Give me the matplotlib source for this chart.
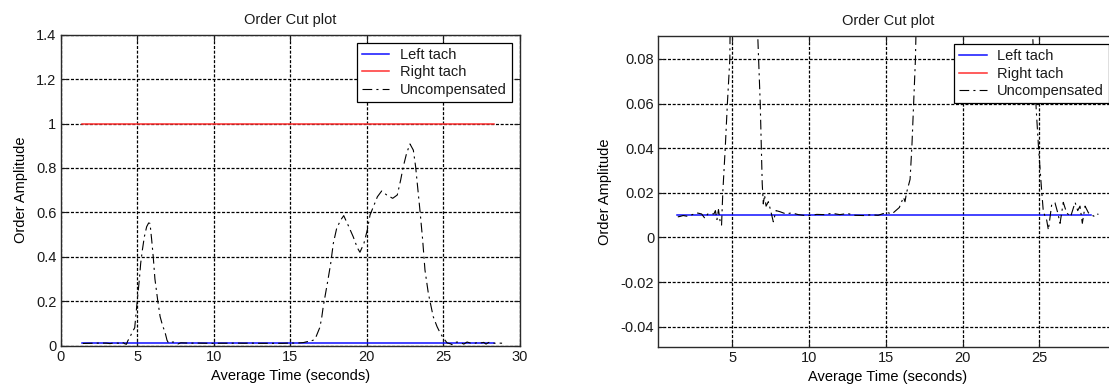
import numpy as np
import matplotlib
matplotlib.use("Agg")
import matplotlib.pyplot as plt
from matplotlib.ticker import FuncFormatter

plt.rcParams["font.family"] = ["Liberation Sans", "DejaVu Sans"]
plt.rcParams["font.size"] = 10.5
plt.rcParams["axes.unicode_minus"] = False
plt.rcParams["lines.scale_dashes"] = False
plt.rcParams["text.color"] = "#1a1a1a"

# tach reference levels over the averaged time span
tach_t = [1.4, 28.35]
left_tach = [0.01, 0.01]
right_tach = [1.0, 1.0]

# uncompensated order amplitude
unc_t = [1.45, 1.6, 1.8, 2.03, 2.4, 2.68, 3.0, 3.22, 3.4, 3.55, 3.8, 3.9, 4.0,
         4.1, 4.2, 4.3, 4.38, 4.46, 4.54, 4.68, 4.84, 4.92, 5.01, 5.14, 5.23,
         5.34, 5.47, 5.62, 5.75, 5.84, 5.95, 6.05, 6.16, 6.34, 6.5, 6.66, 6.82,
         6.89, 6.95, 7.02, 7.1, 7.2, 7.35, 7.5, 7.67, 7.85, 8.11, 8.5, 8.87,
         9.3, 9.74, 9.93, 10.5, 11.0, 11.5, 12.0, 12.5, 13.0, 13.54, 14.0,
         14.5, 15.06, 15.4, 15.88, 16.15, 16.25, 16.35, 16.58, 16.7, 16.81,
         16.93, 17.05, 17.16, 17.43, 17.65, 17.82, 18.04, 18.3, 18.5, 18.8,
         19.12, 19.39, 19.56, 19.82, 20.04, 20.22, 20.48, 20.7, 20.98, 21.31,
         21.7, 22.0, 22.22, 22.39, 22.61, 22.83, 23.05, 23.2, 23.31, 23.48,
         23.66, 23.81, 24.03, 24.35, 24.6, 24.8, 24.95, 25.14, 25.26, 25.48,
         25.59, 25.81, 26.02, 26.2, 26.35, 26.56, 26.78, 27.04, 27.33, 27.5,
         27.65, 27.8, 27.98, 28.2, 28.41, 28.55, 28.69, 28.85]
unc_amp = [0.0092, 0.0094, 0.0098, 0.0095, 0.0102, 0.011, 0.0105, 0.0085,
           0.0105, 0.0107, 0.0105, 0.012, 0.008, 0.0125, 0.0075, 0.0055,
           0.02, 0.03, 0.04, 0.06, 0.08, 0.14, 0.205, 0.295, 0.37, 0.43, 0.49,
           0.535, 0.552, 0.55, 0.475, 0.4, 0.3, 0.205, 0.13, 0.09, 0.06, 0.04,
           0.024, 0.015, 0.019, 0.014, 0.016, 0.012, 0.007, 0.012, 0.0115,
           0.0105, 0.011, 0.0102, 0.0098, 0.0097, 0.0103, 0.0102, 0.0108,
           0.0102, 0.0107, 0.0099, 0.0098, 0.0101, 0.0099, 0.0112, 0.0105,
           0.0134, 0.018, 0.016, 0.02, 0.026, 0.041, 0.06, 0.08, 0.12, 0.175,
           0.28, 0.37, 0.46, 0.528, 0.565, 0.585, 0.54, 0.49, 0.44, 0.42,
           0.46, 0.52, 0.588, 0.633, 0.67, 0.696, 0.678, 0.663, 0.678, 0.745,
           0.805, 0.866, 0.908, 0.88, 0.805, 0.73, 0.61, 0.475, 0.34, 0.235,
           0.13, 0.085, 0.057, 0.04, 0.022, 0.0115, 0.0077, 0.0033, 0.015,
           0.0155, 0.011, 0.0063, 0.0157, 0.011, 0.0093, 0.0157, 0.012, 0.014,
           0.0063, 0.014, 0.011, 0.010, 0.0095, 0.0107, 0.0103]

left_xticks = [0, 5, 10, 15, 20, 25, 30]
left_yticks = [0, 0.2, 0.4, 0.6, 0.8, 1.0, 1.2, 1.4]
right_xticks = [5, 10, 15, 20, 25]
right_yticks = [-0.04, -0.02, 0, 0.02, 0.04, 0.06, 0.08]

fig = plt.figure(figsize=(11.09, 3.9), dpi=100)
ax1 = fig.add_axes([0.0547, 0.1141, 0.4139, 0.7969])
ax2 = fig.add_axes([0.5936, 0.111, 0.4139, 0.7969])

fmt = FuncFormatter(lambda v, p: f"{v:g}")

for ax in (ax1, ax2):
    ax.plot(tach_t, left_tach, color="#1010ff", lw=1.1, label="Left tach")
    ax.plot(tach_t, right_tach, color="#ff3030", lw=1.1, label="Right tach")
    ax.plot(unc_t, unc_amp, color="black", lw=0.8, dashes=(7, 3, 1.5, 3),
            label="Uncompensated")
    ax.grid(True, color="black", lw=0.9, dashes=(2.2, 1.2))
    ax.tick_params(direction="in", length=4, top=True, right=True,
                   colors="#1a1a1a", labelsize=10.5, pad=3)
    ax.yaxis.set_major_formatter(fmt)
    for s in ax.spines.values():
        s.set_color("#2a2a2a")
        s.set_linewidth(1.0)
    ax.set_title("Order Cut plot", fontsize=10.5, pad=8)
    ax.set_xlabel("Average Time (seconds)", labelpad=4)
    ax.set_ylabel("Order Amplitude", labelpad=6)
    leg = ax.legend(loc="upper right", fancybox=False, framealpha=1,
                    edgecolor="black", borderpad=0.35, labelspacing=0.25,
                    handlelength=1.9, handletextpad=0.7, borderaxespad=0.55,
                    fontsize=10.5)
    leg.get_frame().set_linewidth(0.9)

ax1.set_xlim(0, 30)
ax1.set_ylim(0, 1.4)
ax1.set_xticks(left_xticks)
ax1.set_yticks(left_yticks)

ax2.set_xlim(0.18, 30.08)
ax2.set_ylim(-0.049, 0.0903)
ax2.set_xticks(right_xticks)
ax2.set_yticks(right_yticks)

fig.savefig("out.png", dpi=100)
